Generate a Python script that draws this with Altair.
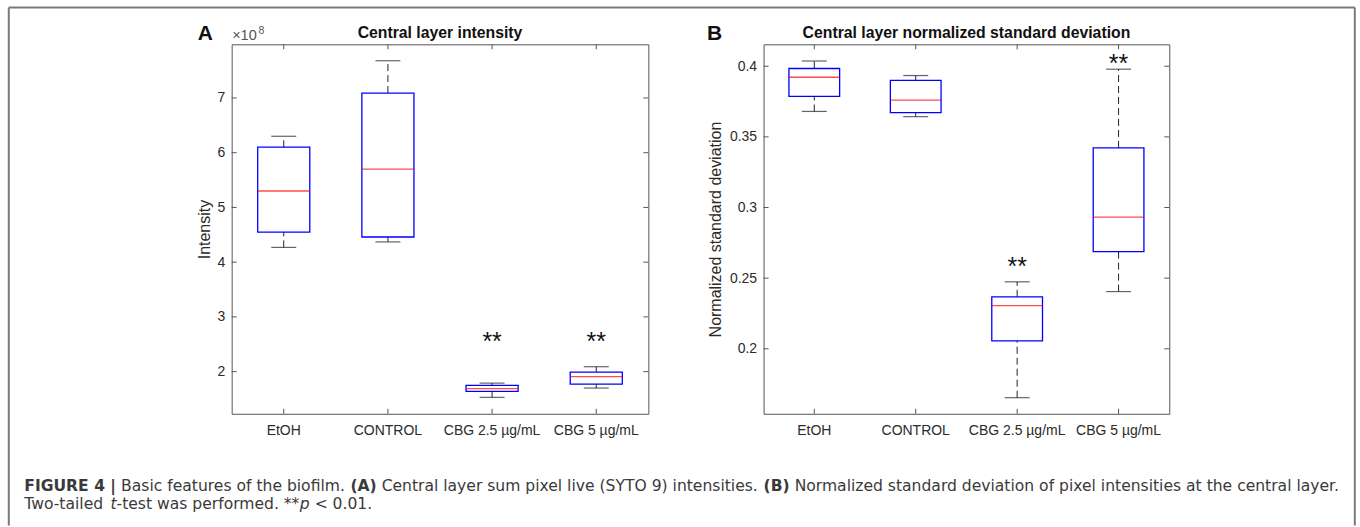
import altair as alt
import pandas as pd

# ---------------- data ----------------
categories = ["EtOH", "CONTROL", "CBG 2.5 µg/mL", "CBG 5 µg/mL"]

# Panel A: central layer intensity (units of 1e8)
a_lower = [4.27, 4.37, 1.53, 1.70]
a_q1 = [4.55, 4.46, 1.64, 1.77]
a_median = [5.30, 5.70, 1.69, 1.91]
a_q3 = [6.10, 7.09, 1.75, 1.99]
a_upper = [6.30, 7.68, 1.79, 2.09]
a_star_cats = ["CBG 2.5 µg/mL", "CBG 5 µg/mL"]
a_star_y = [2.65, 2.65]
a_ticks = [2, 3, 4, 5, 6, 7]
a_domain = [1.23, 7.98]

# Panel B: normalized standard deviation
b_lower = [0.368, 0.3643, 0.1654, 0.2405]
b_q1 = [0.3786, 0.3671, 0.2056, 0.2688]
b_median = [0.3922, 0.3760, 0.2305, 0.2932]
b_q3 = [0.3984, 0.3900, 0.2368, 0.3422]
b_upper = [0.4037, 0.3934, 0.2474, 0.3979]
b_star_cats = ["CBG 2.5 µg/mL", "CBG 5 µg/mL"]
b_star_y = [0.262, 0.4059]
b_ticks = [0.2, 0.25, 0.3, 0.35, 0.4]
b_domain = [0.154, 0.4155]

titles = ["Central layer intensity", "Central layer normalized standard deviation"]
panel_letters = ["A", "B"]
y_titles = ["Intensity", "Normalized standard deviation"]

# caption: lists of (text, weight, style) segments per line
caption_line1 = [("FIGURE 4 |", "bold", "normal"),
                 ("Basic features of the biofilm.", "normal", "normal"),
                 ("(A)", "bold", "normal"),
                 ("Central layer sum pixel live (SYTO 9) intensities.", "normal", "normal"),
                 ("(B)", "bold", "normal"),
                 ("Normalized standard deviation of pixel intensities at the central layer.", "normal", "normal")]
caption_line2 = [("Two-tailed ", "normal", "normal"),
                 ("t", "normal", "italic"),
                 ("-test was performed. **", "normal", "normal"),
                 ("p", "normal", "italic"),
                 (" < 0.01.", "normal", "normal")]

# ---------------- layout ----------------
F = "Liberation Sans"
CF = "DejaVu Sans"
CFS = 15.6
AX = "#555555"
LBL = "#2b2b2b"
X0, Y0 = 230.7, 43.0          # panel A plot origin on the page
WA, WB, H = 417.3, 406.3, 370.0
GAP = 114.7

# approximate DejaVu Sans advance widths (em) used to chain caption segments
_W = {" ": .318, "a": .613, "b": .635, "c": .550, "d": .635, "e": .615, "f": .352, "g": .635,
      "h": .634, "i": .278, "j": .278, "k": .579, "l": .278, "m": .974, "n": .634, "o": .612,
      "p": .635, "q": .635, "r": .411, "s": .521, "t": .392, "u": .634, "v": .592, "w": .818,
      "x": .592, "y": .592, "z": .525, "A": .684, "B": .686, "C": .698, "D": .770, "E": .632,
      "F": .575, "G": .775, "H": .752, "I": .295, "L": .557, "M": .863, "N": .748, "O": .787,
      "P": .603, "R": .695, "S": .635, "T": .611, "U": .732, "Y": .611, ".": .318, "(": .390,
      ")": .390, "|": .337, "-": .361, "<": .838, "*": .500, "/": .337}
_WB = {" ": .348, "F": .683, "I": .372, "G": .821, "U": .812, "R": .770, "E": .683, "|": .365,
       "(": .457, ")": .457, "A": .774, "B": .762, "4": .696}


def text_w(s, size, bold):
    tot = 0.0
    for ch in s:
        if ch.isdigit() and not bold:
            tot += .636
        elif bold:
            tot += _WB.get(ch, _W.get(ch, .65) * 1.1)
        else:
            tot += _W.get(ch, .6)
    return tot * size


def one(v):
    return pd.DataFrame({"t": [v]})


def panel(lower, q1, med, q3, upper, star_cats, star_y, ticks, domain,
          W, ytitle, title_x, fmt, title, letter, letter_x):
    df = pd.DataFrame(dict(cat=categories, lo=lower, q1=q1, med=med, q3=q3, hi=upper))
    xaxis = alt.Axis(title=None, labelAngle=0, ticks=False, domain=False, grid=False,
                     labelFontSize=14, labelColor=LBL, labelFont=F, labelPadding=10)
    yaxis = alt.Axis(values=ticks, format=fmt, ticks=False, domain=False, grid=False,
                     labelFontSize=14, labelColor=LBL, labelFont=F, labelPadding=7,
                     title=ytitle, titleFont=F, titleFontSize=16, titleFontWeight="normal",
                     titleColor=LBL, titleAngle=270, titleX=title_x, titleY=H / 2,
                     titleAlign="center", titleBaseline="middle")
    xs = alt.Scale(type="band", paddingInner=0, paddingOuter=0)
    ys = alt.Scale(domain=domain, nice=False, zero=False)

    def X():
        return alt.X("cat:N", sort=categories, scale=xs, axis=xaxis, bandPosition=0.5)

    def Y(f):
        return alt.Y(f, scale=ys, axis=yaxis)

    base = alt.Chart(df)
    wh_up = base.mark_rule(color="#222222", strokeWidth=1, strokeDash=[7, 4]).encode(
        x=X(), y=Y("q3:Q"), y2="hi:Q")
    wh_lo = base.mark_rule(color="#222222", strokeWidth=1, strokeDash=[7, 4]).encode(
        x=X(), y=Y("lo:Q"), y2="q1:Q")
    cap_up = base.mark_tick(color="#222222", size=25, thickness=1.2).encode(x=X(), y=Y("hi:Q"))
    cap_lo = base.mark_tick(color="#222222", size=25, thickness=1.2).encode(x=X(), y=Y("lo:Q"))
    box = base.mark_bar(size=W / 8, fillOpacity=0, stroke="#0000ff", strokeWidth=1.3).encode(
        x=alt.X("cat:N", sort=categories, scale=xs, axis=xaxis), y=Y("q1:Q"), y2="q3:Q")
    med_t = base.mark_tick(color="#ff0000", size=W / 8, thickness=1.3).encode(x=X(), y=Y("med:Q"))

    sdf = pd.DataFrame(dict(cat=star_cats, y=star_y, t=["**"] * len(star_cats)))
    stars = alt.Chart(sdf).mark_text(font=F, fontSize=25, baseline="alphabetic", dy=14,
                                     color="#111111").encode(x=X(), y=Y("y:Q"), text="t:N")

    tdf = pd.DataFrame(dict(v=ticks))
    yt_l = alt.Chart(tdf).mark_rule(color=AX).encode(y=Y("v:Q"), x=alt.value(0), x2=alt.value(5))
    yt_r = alt.Chart(tdf).mark_rule(color=AX).encode(y=Y("v:Q"), x=alt.value(W - 5), x2=alt.value(W))
    cdf = pd.DataFrame(dict(cat=categories))
    xt_b = alt.Chart(cdf).mark_rule(color=AX).encode(x=X(), y=alt.value(H), y2=alt.value(H - 5))
    xt_t = alt.Chart(cdf).mark_rule(color=AX).encode(x=X(), y=alt.value(0), y2=alt.value(5))

    ttl = alt.Chart(one(title)).mark_text(font=F, fontSize=15.8, fontWeight="bold", color="#111111",
                                          align="center", baseline="alphabetic").encode(
        text="t:N", x=alt.value(W / 2), y=alt.value(-6.3))
    let = alt.Chart(one(letter)).mark_text(font=F, fontSize=21, fontWeight="bold", color="#111111",
                                           align="left", baseline="alphabetic").encode(
        text="t:N", x=alt.value(letter_x), y=alt.value(-4.7))

    return [wh_up, wh_lo, cap_up, cap_lo, box, med_t, stars, yt_l, yt_r, xt_b, xt_t, ttl, let]


la = panel(a_lower, a_q1, a_median, a_q3, a_upper, a_star_cats, a_star_y, a_ticks, a_domain,
           WA, y_titles[0], -27, "d", titles[0], panel_letters[0], -34)
lb = panel(b_lower, b_q1, b_median, b_q3, b_upper, b_star_cats, b_star_y, b_ticks, b_domain,
           WB, y_titles[1], -47.7, "~g", titles[1], panel_letters[1], -56.7)

# exponent label for panel A
exp_base = alt.Chart(one("×10")).mark_text(font=F, fontSize=14.5, color="#555555", align="left",
                                          baseline="alphabetic").encode(
    text="t:N", x=alt.value(0.5), y=alt.value(-4))
exp_sup = alt.Chart(one("8")).mark_text(font=F, fontSize=10.5, color="#555555", align="left",
                                        baseline="alphabetic").encode(
    text="t:N", x=alt.value(26.8), y=alt.value(-10))


def page_rule(x1, y1, x2, y2):
    return alt.Chart(one("")).mark_rule(color="#7a7a7a", strokeWidth=2).encode(
        x=alt.value(x1 - X0), y=alt.value(y1 - Y0), x2=alt.value(x2 - X0), y2=alt.value(y2 - Y0))


frame = [page_rule(7.5, 6, 7.5, 525), page_rule(7.5, 6, 1355.5, 6), page_rule(1355.5, 6, 1355.5, 525)]
bounds_rect = alt.Chart(one("")).mark_rect(opacity=0).encode(
    x=alt.value(-X0), x2=alt.value(1360 - X0), y=alt.value(-Y0), y2=alt.value(527 - Y0))


def caption_layers(segments, x_start, baseline, sep):
    out = []
    x = x_start
    for txt, wt, st in segments:
        lead = len(txt) - len(txt.lstrip(" "))
        x += text_w(" " * lead, CFS, wt == "bold")
        body = txt.strip(" ")
        out.append(alt.Chart(one(body)).mark_text(font=CF, fontSize=CFS, fontWeight=wt, fontStyle=st,
                                                 color="#3a3a3a", align="left",
                                                 baseline="alphabetic").encode(
            text="t:N", x=alt.value(x - X0), y=alt.value(baseline - Y0)))
        x += text_w(txt.lstrip(" "), CFS, wt == "bold") + sep
    return out


cap_layers = caption_layers(caption_line1, 23, 490, text_w(" ", CFS, False)) + \
    caption_layers(caption_line2, 23, 508, 0)

chartA = alt.layer(bounds_rect, *la, exp_base, exp_sup, *frame, *cap_layers).properties(width=WA, height=H)
chartB = alt.layer(*lb).properties(width=WB, height=H)

chart = alt.hconcat(chartA, chartB, spacing=GAP, bounds="flush").properties(
    padding=0, background="white"
).configure_view(stroke=AX, strokeWidth=1)

chart.save("out.html", embed_options={"renderer": "svg", "actions": False})
